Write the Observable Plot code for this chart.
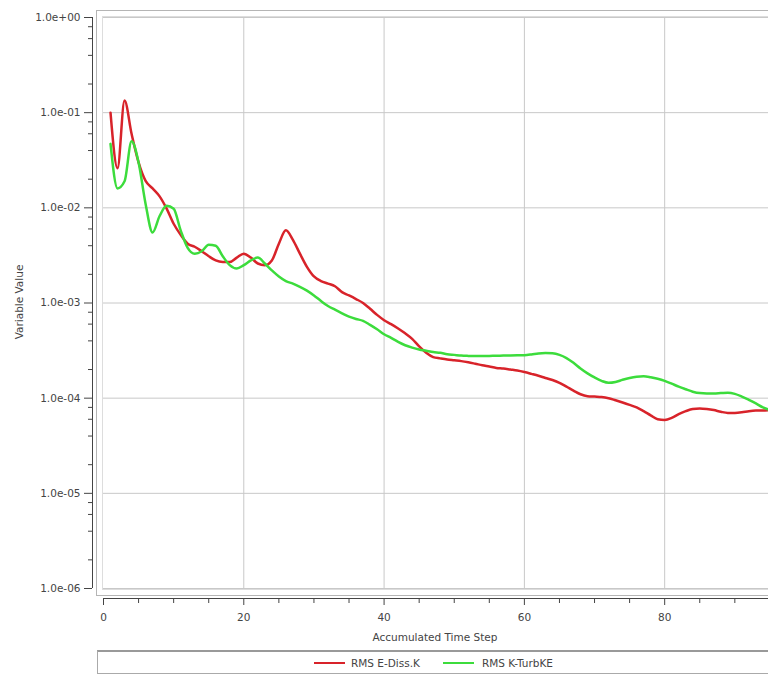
<!DOCTYPE html>
<html><head><meta charset="utf-8">
<script src="https://cdn.jsdelivr.net/npm/d3@7"></script>
<script src="https://cdn.jsdelivr.net/npm/@observablehq/plot@0.6"></script>
<style>
body{margin:0;background:#fff;font-family:"DejaVu Sans",sans-serif;color:#444;}
#wrap{position:relative;width:768px;height:675px;overflow:hidden;}
#chart{position:absolute;left:0;top:0;}
.ytitle{position:absolute;left:19px;top:302px;transform:translate(-50%,-50%) rotate(-90deg);font-size:10.5px;white-space:nowrap;}
.xtitle{position:absolute;left:435px;top:637px;transform:translate(-50%,-50%);font-size:10.5px;white-space:nowrap;}
#legend{position:absolute;left:97px;top:650px;width:690px;height:24px;border:1px solid #aaa;border-top:2px solid #999;box-sizing:border-box;font-size:10.5px;}
.sw{position:absolute;top:10px;width:31px;height:0;border-top:2.5px solid;}
.lt{position:absolute;top:5px;white-space:nowrap;}
</style>
</head><body>
<div id="wrap">
  <div id="chart"></div>
  <div class="ytitle">Variable Value</div>
  <div class="xtitle">Accumulated Time Step</div>
  <div id="legend"></div>
</div>
<script>
// ---- data ----
const seriesNames = ["RMS E-Diss.K", "RMS K-TurbKE"];
const seriesColors = ["#d8232a", "#3cdc3c"];
const steps = d3.range(1, 96);
const eDissK = [
  0.1, 0.026, 0.134, 0.06, 0.03, 0.0192, 0.016, 0.0132, 0.0098, 0.0068,
  0.0052, 0.0042, 0.0039, 0.0035, 0.0031, 0.0028, 0.0027, 0.0027, 0.003, 0.0033,
  0.003, 0.0026, 0.0025, 0.0028, 0.0042, 0.0058, 0.0046, 0.0033, 0.0024, 0.0019,
  0.0017, 0.0016, 0.0015, 0.0013, 0.0012, 0.0011, 0.001, 0.00087, 0.00075, 0.00066,
  0.0006, 0.00054, 0.00048, 0.00042, 0.00035, 0.0003, 0.00027, 0.000262, 0.000255, 0.00025,
  0.000245, 0.000238, 0.00023, 0.000222, 0.000215, 0.000208, 0.000205, 0.0002, 0.000195, 0.000188,
  0.00018, 0.000172, 0.000163, 0.000155, 0.000145, 0.000132, 0.00012, 0.00011, 0.000105, 0.000104,
  0.000103, 0.0001, 0.000095, 0.00009, 0.000085, 0.00008, 0.000073, 0.000066, 0.00006, 0.000059,
  0.000062, 0.000068, 0.000073, 0.000077, 0.000078, 0.000077, 0.000075, 0.000072, 0.00007, 0.00007,
  0.000071, 0.000073, 0.000074, 0.000074, 0.000075
];
const kTurbKE = [
  0.047, 0.016, 0.019, 0.05, 0.03, 0.011, 0.0055, 0.0082, 0.0105, 0.0098,
  0.0058, 0.0038, 0.0033, 0.0035, 0.0041, 0.004, 0.0031, 0.0025, 0.0023, 0.0025,
  0.0028, 0.003, 0.0026, 0.0022, 0.0019, 0.0017, 0.0016, 0.00148, 0.00135, 0.0012,
  0.00105, 0.00093, 0.00085, 0.00078, 0.00072, 0.00068, 0.00065, 0.00059, 0.00053, 0.00047,
  0.00043, 0.00039, 0.00036, 0.00034, 0.000325, 0.000315, 0.000305, 0.0003, 0.00029, 0.000285,
  0.00028, 0.000278, 0.000277, 0.000277, 0.000278, 0.000279, 0.00028, 0.000281, 0.000282, 0.000283,
  0.000288, 0.000295, 0.000298, 0.000296, 0.000285, 0.000264, 0.000235, 0.000205, 0.000182, 0.000165,
  0.000152, 0.000145, 0.000148, 0.000156, 0.000163, 0.000168, 0.00017, 0.000166, 0.00016, 0.000152,
  0.000142, 0.000132, 0.000124, 0.000117, 0.000113, 0.000112, 0.000112, 0.000113, 0.000114, 0.000111,
  0.000104, 0.000096, 0.000088, 0.00008, 0.000075
];
const yTicks = [1, 1e-1, 1e-2, 1e-3, 1e-4, 1e-5, 1e-6];
const yTickLabels = ["1.0e+00", "1.0e-01", "1.0e-02", "1.0e-03", "1.0e-04", "1.0e-05", "1.0e-06"];
const yMinorMultipliers = [2, 4, 6, 8];
const xTicks = [0, 20, 40, 60, 80];
const xMinorTicks = [5, 10, 15, 25, 30, 35, 45, 50, 55, 65, 70, 75, 85, 90];
const xGrid = [20, 40, 60, 80];

// ---- build ----
const rows = [];
steps.forEach((s, i) => {
  rows.push({step: s, value: eDissK[i], series: seriesNames[0]});
  rows.push({step: s, value: kTurbKE[i], series: seriesNames[1]});
});
const yMinor = yTicks.slice(1).flatMap(d => yMinorMultipliers.map(m => d * m));

const plot = Plot.plot({
  width: 768, height: 648,
  marginLeft: 103, marginRight: 0, marginTop: 17, marginBottom: 60,
  style: {fontFamily: "DejaVu Sans, sans-serif", fontSize: "10.5px", color: "#444", background: "white"},
  x: {domain: [0, 94.8], label: null},
  y: {type: "log", domain: [1e-6, 1], label: null},
  color: {domain: seriesNames, range: seriesColors},
  marks: [
    Plot.gridY(yTicks, {stroke: "#c8c8c8", strokeOpacity: 1}),
    Plot.gridX(xGrid, {stroke: "#c8c8c8", strokeOpacity: 1}),
    Plot.frame({inset: -1, stroke: "#dddddd"}),
    Plot.frame({inset: -7, stroke: "#b5b5b5"}),
    Plot.axisY(yTicks, {dx: -11, tickSize: 8, tickPadding: 4, tickFormat: d => yTickLabels[yTicks.indexOf(d)], stroke: "#444"}),
    Plot.axisY(yMinor, {dx: -11, tickSize: 4, tickFormat: () => "", stroke: "#444"}),
    Plot.ruleX([0], {y1: 1e-6, y2: 1, dx: -11, stroke: "#444"}),
    Plot.axisX(xTicks, {dy: 10, tickSize: 7, tickPadding: 8, stroke: "#444"}),
    Plot.axisX(xMinorTicks, {dy: 10, tickSize: 5, tickFormat: () => "", stroke: "#444"}),
    Plot.ruleY([1e-6], {dy: 10, stroke: "#444"}),
    Plot.line(rows, {x: "step", y: "value", z: "series", stroke: "series", strokeWidth: 2.5, curve: "monotone-x"})
  ]
});
document.getElementById("chart").appendChild(plot);

// legend
const lg = document.getElementById("legend");
const swLeft = [216, 345];
const txLeft = [253, 384];
seriesNames.forEach((n, i) => {
  const sw = document.createElement("div");
  sw.className = "sw"; sw.style.left = swLeft[i] + "px"; sw.style.borderTopColor = seriesColors[i];
  lg.appendChild(sw);
  const t = document.createElement("div");
  t.className = "lt"; t.style.left = txLeft[i] + "px"; t.textContent = n;
  lg.appendChild(t);
});
</script>
</body></html>
